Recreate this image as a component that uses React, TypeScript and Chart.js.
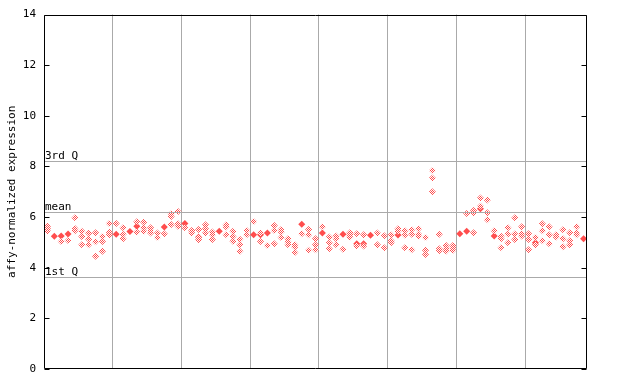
import React, { useEffect, useRef } from "react";
import { Chart, registerables } from "chart.js";

Chart.register(...registerables);

// Per-sample (column) expression values
const hatchedValues: number[][] = [
  [5.64, 5.54, 5.45], [], [5.04], [5.08], [5.97, 5.55, 5.46],
  [5.44, 5.23, 4.91], [5.36, 5.13, 4.91], [5.38, 5.03, 4.45], [5.23, 5.04, 4.65], [5.75, 5.4, 5.3],
  [5.75], [5.58, 5.32, 5.15], [], [5.82, 5.41], [5.8, 5.58, 5.44],
  [5.58, 5.47, 5.37], [5.37, 5.19], [5.34], [6.13, 6.02, 5.71], [6.22, 5.74, 5.64],
  [5.58], [5.47, 5.37], [5.51, 5.21, 5.11], [5.7, 5.54, 5.37], [5.41, 5.3, 5.12],
  [], [5.7, 5.61, 5.3], [5.44, 5.23, 5.05], [5.13, 4.91, 4.65], [5.47, 5.3],
  [5.83], [5.38, 5.04], [4.88], [5.67, 5.47, 4.95], [5.51, 5.41, 5.19],
  [5.15, 5.02, 4.91], [4.91, 4.82, 4.6], [5.34], [5.51, 5.3, 4.69], [5.15, 4.91, 4.71],
  [5.62], [5.21, 4.99, 4.75], [5.25, 5.15, 4.91], [4.73], [5.38, 5.3, 5.21],
  [5.34, 4.86], [5.3, 4.86], [], [5.37, 4.91], [5.26, 4.79],
  [5.29, 5.07, 4.99], [5.54, 5.44], [5.46, 5.29, 4.79], [5.5, 5.32, 4.71], [5.54, 5.32, 5.24],
  [5.19, 4.69, 4.52], [7.84, 7.55, 7.0], [5.32, 4.75, 4.67], [4.88, 4.75, 4.66], [4.88, 4.79, 4.69],
  [], [6.14], [6.26, 6.17, 5.38], [6.76, 6.43], [6.68, 6.17, 5.9],
  [5.46], [5.24, 5.15, 4.79], [5.58, 5.33, 4.99], [5.97, 5.33, 5.12], [5.62, 5.34, 5.25],
  [5.34, 5.12, 4.71], [5.19, 4.91], [5.74, 5.46, 5.07], [5.62, 5.3, 4.95], [5.3, 5.21],
  [5.5, 5.15, 4.83], [5.38, 5.07, 4.91], [5.62, 5.38, 5.3], [],
];

const solidValues: number[][] = [
  [], [5.24], [5.25], [5.33], [],
  [], [], [], [], [],
  [5.32], [], [5.43], [5.64], [],
  [], [], [5.61], [], [],
  [5.75], [], [5.21], [], [],
  [5.44], [], [], [], [],
  [5.3], [5.3], [5.37], [], [],
  [], [], [5.72], [], [],
  [5.37], [], [], [5.32], [],
  [4.95], [4.95], [5.28], [], [],
  [], [5.29], [], [], [],
  [], [], [], [], [],
  [5.34], [5.44], [], [6.33], [],
  [5.25], [], [], [], [],
  [], [4.99], [], [], [],
  [], [], [], [5.15],
];

const groupBoundaries = [10, 20, 30, 40, 50, 60, 70];
const yTicks = [0, 2, 4, 6, 8, 10, 12, 14];
const refLines = [
  { label: "3rd Q", value: 8.23 },
  { label: "mean", value: 6.22 },
  { label: "1st Q", value: 3.62 },
];
const yTitle = "affy-normalized expression";

const RED = "#ff4d4d";
const FONT = "'DejaVu Sans Mono', monospace";

function toPoints(cols: number[][]) {
  const pts: { x: number; y: number }[] = [];
  cols.forEach((vals, i) => vals.forEach((v) => pts.push({ x: i + 0.5, y: v })));
  return pts;
}

function makePattern(): CanvasPattern | string {
  const c = document.createElement("canvas");
  c.width = 2;
  c.height = 2;
  const g = c.getContext("2d");
  if (!g) return RED;
  g.fillStyle = "#ffffff";
  g.fillRect(0, 0, 2, 2);
  g.fillStyle = RED;
  g.fillRect(0, 0, 1, 1);
  g.fillRect(1, 1, 1, 1);
  const p = g.createPattern(c, "repeat");
  return p || RED;
}

const framePlugin = {
  id: "framePlugin",
  afterDatasetsDraw(chart: any) {
    const { ctx, chartArea } = chart;
    const ys = chart.scales.y;
    const l = Math.round(chartArea.left) + 0.5;
    const r = Math.round(chartArea.right) - 0.5;
    const t = Math.round(chartArea.top) + 0.5;
    const b = Math.round(chartArea.bottom) - 0.5;
    ctx.save();
    ctx.strokeStyle = "#aaaaaa";
    ctx.lineWidth = 1;
    ctx.font = `11px ${FONT}`;
    ctx.fillStyle = "#000000";
    ctx.textAlign = "left";
    ctx.textBaseline = "bottom";
    refLines.forEach((rl) => {
      const y = Math.round(ys.getPixelForValue(rl.value)) + 0.5;
      ctx.beginPath();
      ctx.moveTo(l, y);
      ctx.lineTo(r, y);
      ctx.stroke();
      ctx.fillText(rl.label, l + 0.5, y + 0.5);
    });
    ctx.strokeStyle = "#000000";
    ctx.beginPath();
    ctx.rect(l, t, r - l, b - t);
    ctx.stroke();
    yTicks.forEach((v) => {
      const y = Math.round(ys.getPixelForValue(v)) + 0.5;
      ctx.beginPath();
      ctx.moveTo(l, y);
      ctx.lineTo(l + 5, y);
      ctx.moveTo(r, y);
      ctx.lineTo(r - 5, y);
      ctx.stroke();
    });
    ctx.restore();
  },
};

export default function App() {
  const ref = useRef<HTMLCanvasElement | null>(null);
  useEffect(() => {
    document.body.style.margin = "0";
    if (!ref.current) return;
    const pattern = makePattern();
    const chart = new Chart(ref.current, {
      type: "scatter",
      data: {
        datasets: [
          {
            data: toPoints(hatchedValues),
            pointStyle: "rectRot",
            pointRadius: 3.5,
            backgroundColor: pattern as any,
            borderWidth: 0,
            borderColor: "rgba(0,0,0,0)",
          },
          {
            data: toPoints(solidValues),
            pointStyle: "rectRot",
            pointRadius: 3.5,
            backgroundColor: RED,
            borderWidth: 0,
            borderColor: RED,
          },
        ],
      },
      options: {
        animation: false,
        responsive: false,
        events: [],
        layout: { padding: { left: 0, top: 13, right: 53, bottom: 15 } },
        plugins: { legend: { display: false }, tooltip: { enabled: false } },
        scales: {
          x: {
            type: "linear",
            min: 0,
            max: hatchedValues.length,
            afterBuildTicks: (scale: any) => {
              scale.ticks = groupBoundaries.map((v) => ({ value: v }));
            },
            afterFit: (scale: any) => {
              scale.height = 0;
            },
            ticks: { display: false },
            border: { display: false },
            grid: { color: "#aaaaaa", lineWidth: 1, drawTicks: false },
          },
          y: {
            min: 0,
            max: 14,
            afterBuildTicks: (scale: any) => {
              scale.ticks = yTicks.map((v) => ({ value: v }));
            },
            afterFit: (scale: any) => {
              scale.width = 44;
            },
            ticks: {
              color: "#000000",
              padding: 8,
              font: { family: FONT, size: 11 },
            },
            grid: { display: false, drawTicks: false },
            border: { display: false },
            title: {
              display: true,
              text: yTitle,
              color: "#000000",
              font: { family: FONT, size: 11 },
              padding: { top: 6, bottom: 0 },
            },
          },
        },
      },
      plugins: [framePlugin],
    });
    return () => chart.destroy();
  }, []);
  return <canvas ref={ref} width={640} height={384} style={{ display: "block" }} />;
}
